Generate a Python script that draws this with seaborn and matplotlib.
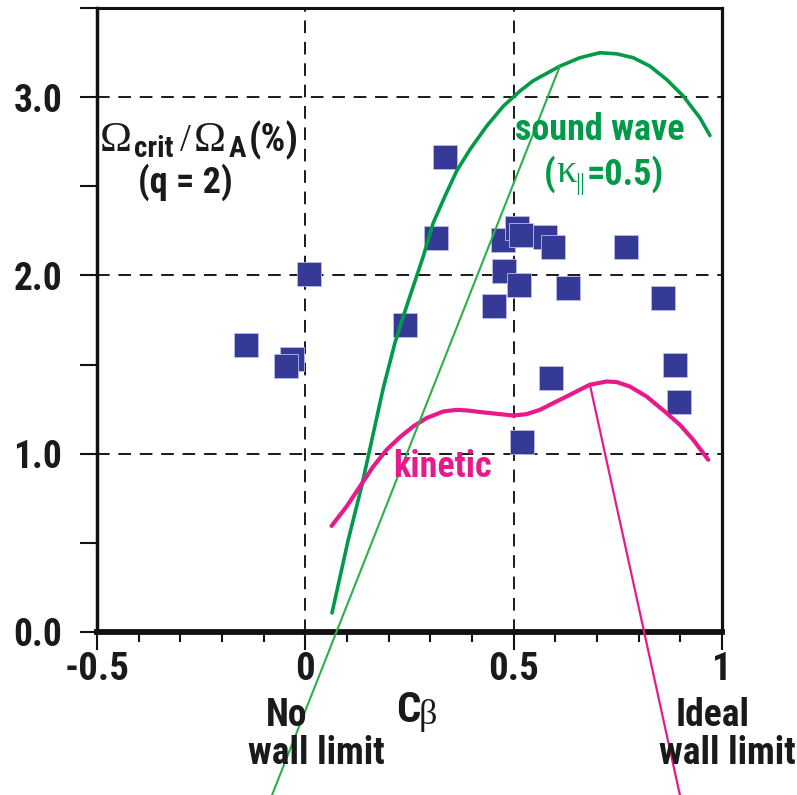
import os
import numpy as np
import pandas as pd
import matplotlib
matplotlib.use("Agg")
import matplotlib.pyplot as plt
import seaborn as sns
from matplotlib import font_manager as fm
from matplotlib.font_manager import FontProperties
from matplotlib.ticker import FixedLocator, FuncFormatter

# ---------------- data ----------------
cbeta_pts = [0.335, 0.313, 0.008, 0.238, -0.142, -0.032, -0.046,
             0.474, 0.508, 0.518, 0.575, 0.594, 0.476, 0.512, 0.452,
             0.630, 0.770, 0.858, 0.590, 0.888, 0.897, 0.521]
omega_pts = [2.663, 2.212, 2.010, 1.722, 1.610, 1.531, 1.490,
             2.199, 2.264, 2.229, 2.214, 2.160, 2.023, 1.948, 1.830,
             1.930, 2.160, 1.874, 1.422, 1.499, 1.288, 1.063]

sound_x = [0.064, 0.103, 0.135, 0.187, 0.215, 0.235, 0.259, 0.283, 0.307,
           0.335, 0.363, 0.395, 0.435, 0.475, 0.515, 0.547, 0.611, 0.659,
           0.707, 0.747, 0.787, 0.827, 0.867, 0.907, 0.947, 0.971]
sound_y = [0.107, 0.517, 0.816, 1.368, 1.621, 1.770, 1.939, 2.107, 2.295,
           2.444, 2.585, 2.706, 2.837, 2.949, 3.034, 3.092, 3.174, 3.221,
           3.249, 3.243, 3.221, 3.174, 3.099, 3.006, 2.884, 2.785]

kinetic_x = [0.063, 0.099, 0.131, 0.163, 0.195, 0.227, 0.259, 0.291, 0.331,
             0.363, 0.387, 0.419, 0.467, 0.499, 0.531, 0.563, 0.595, 0.627,
             0.659, 0.683, 0.723, 0.747, 0.779, 0.819, 0.867, 0.899, 0.931,
             0.967]
kinetic_y = [0.595, 0.704, 0.816, 0.928, 1.022, 1.093, 1.153, 1.200, 1.237,
             1.246, 1.243, 1.234, 1.222, 1.214, 1.222, 1.246, 1.284, 1.321,
             1.359, 1.387, 1.405, 1.402, 1.377, 1.321, 1.228, 1.162, 1.078,
             0.966]

no_wall_x = [0.611, -0.080]
no_wall_y = [3.174, -0.915]
ideal_wall_x = [0.683, 0.899]
ideal_wall_y = [1.387, -0.915]

x_major = [-0.5, 0, 0.5, 1]
x_labels = ["-0.5", "0", "0.5", "1"]
x_minor = [-0.4, -0.3, -0.2, -0.1, 0.1, 0.2, 0.3, 0.4, 0.6, 0.7, 0.8, 0.9]
y_ticks = [0, 0.5, 1.0, 1.5, 2.0, 2.5, 3.0, 3.5]
y_labeled = [0.0, 1.0, 2.0, 3.0]
grid_x = [0, 0.5]
grid_y = [1.0, 2.0, 3.0]

# ---------------- fonts ----------------
sns.set_theme(style="white")
plt.rcParams["font.family"] = ["Liberation Sans", "DejaVu Sans"]


def _w(f):
    w = f.weight
    if isinstance(w, str):
        w = fm.weight_dict.get(w, 400)
    return w


def _is_cond(f):
    b = os.path.basename(f.fname).lower()
    n = f.name.lower()
    return ("condens" in str(f.stretch) or "narrow" in n or "condensed" in n
            or "condensed" in b or "narrow" in b)


prefs = ["liberation sans narrow", "arial narrow", "nimbus sans narrow",
         "roboto condensed", "noto sans", "open sans", "dejavu sans"]
cands = [f for f in fm.fontManager.ttflist
         if _is_cond(f) and 600 <= _w(f) <= 800 and f.style == "normal"]


def _rank(f):
    n = f.name.lower()
    for i, p in enumerate(prefs):
        if n.startswith(p):
            return (i, abs(_w(f) - 700))
    return (len(prefs), abs(_w(f) - 700))


cands.sort(key=_rank)
if cands:
    SANS = FontProperties(fname=cands[0].fname)
    R = 1.0
else:
    SANS = FontProperties(family="Liberation Sans", weight="bold")
    R = 0.86
SERIF = FontProperties(family="Liberation Serif")

W, H = 797, 795
fig = plt.figure(figsize=(W / 100, H / 100), dpi=100)
ax = fig.add_axes([97 / W, 1 - 632 / H, 625 / W, 624 / H])

NAVY = "#353A96"
GREEN = "#009A48"
LGREEN = "#2AB04A"
MAG = "#E8198B"
INK = "#1a1a1a"

dash = (0, (6.5, 4.5))
for gx in grid_x:
    ax.axvline(gx, color=INK, lw=1.4, linestyle=dash, zorder=1)
for gy in grid_y:
    ax.axhline(gy, color=INK, lw=1.4, linestyle=dash, zorder=1)

pts = pd.DataFrame({"cb": cbeta_pts, "om": omega_pts})
sns.scatterplot(data=pts, x="cb", y="om", marker="s", s=320, color=NAVY,
                edgecolor="#b8bce6", linewidth=0.6, ax=ax, zorder=3)

snd = pd.DataFrame({"x": sound_x, "y": sound_y})
kin = pd.DataFrame({"x": kinetic_x, "y": kinetic_y})
sns.lineplot(data=snd, x="x", y="y", sort=False, estimator=None, color=GREEN,
             lw=2.6, ax=ax, zorder=4)
sns.lineplot(data=kin, x="x", y="y", sort=False, estimator=None, color=MAG,
             lw=3.0, ax=ax, zorder=4)
for ln in ax.lines[-2:]:
    ln.set_solid_joinstyle("round")
    ln.set_solid_capstyle("round")

ax.plot(no_wall_x, no_wall_y, color=LGREEN, lw=1.5, zorder=4, clip_on=False)
ax.plot(ideal_wall_x, ideal_wall_y, color=MAG, lw=1.6, zorder=4, clip_on=False)

ax.set_xlim(-0.5, 1.0)
ax.set_ylim(0, 3.5)
ax.set_xlabel("")
ax.set_ylabel("")

for side, w in [("left", 2.5), ("right", 2.3), ("top", 2.2), ("bottom", 4.2)]:
    ax.spines[side].set_visible(True)
    ax.spines[side].set_color("#111111")
    ax.spines[side].set_linewidth(w)

ax.xaxis.set_major_locator(FixedLocator(x_major))
ax.xaxis.set_minor_locator(FixedLocator(x_minor))
ax.set_xticklabels(x_labels)
ax.yaxis.set_major_locator(FixedLocator(y_ticks))
ax.yaxis.set_major_formatter(FuncFormatter(
    lambda v, p: f"{v:.1f}" if any(abs(v - t) < 1e-6 for t in y_labeled) else ""))

ax.tick_params(axis="x", which="major", direction="out", length=13, width=1.5,
               color="#111111", pad=1, bottom=True)
ax.tick_params(axis="x", which="minor", direction="out", length=7, width=1.5,
               color="#111111", bottom=True)
ax.tick_params(axis="y", which="major", direction="out", length=12, width=1.5,
               color="#111111", pad=13, left=True)
for lab in ax.get_xticklabels():
    lab.set_fontproperties(SANS)
    lab.set_fontsize(28 * R)
    lab.set_color(INK)
for lab in ax.get_yticklabels():
    lab.set_fontproperties(SANS)
    lab.set_fontsize(27 * R)
    lab.set_color(INK)


# ---------------- annotations ----------------
def T(px, py, s, size, fp, color=INK, ha="left", va="baseline"):
    t = fig.text(px / W, 1 - py / H, s, ha=ha, va=va, color=color)
    t.set_fontproperties(fp)
    t.set_fontsize(size)
    return t


# Omega_crit / Omega_A (%)
T(100, 151, "\u03A9", 31, SERIF)
T(134, 157, "crit", 21 * R, SANS)
T(180, 151, "/", 28, SERIF)
T(194, 151, "\u03A9", 31, SERIF)
T(229, 157, "A", 21 * R, SANS)
T(249, 151, "(%)", 28 * R, SANS)
T(185, 193, "(q = 2)", 26 * R, SANS, ha="center")

# sound wave label
T(600, 140, "sound wave", 26 * R, SANS, color=GREEN, ha="center")
T(544, 185, "(", 26 * R, SANS, color=GREEN)
T(556, 182, "\u03BA", 29, SERIF, color=GREEN)
T(575, 190, "||", 18, SERIF, color=GREEN)
T(587, 185, "=0.5)", 26 * R, SANS, color=GREEN)

# kinetic
T(442, 477, "kinetic", 26 * R, SANS, color=MAG, ha="center")

# C_beta
T(396, 722, "C", 31 * R, SANS)
T(419, 724, "\u03B2", 26, SERIF)

# wall limits
T(287, 726, "No", 27 * R, SANS, ha="center")
T(316, 764, "wall limit", 27 * R, SANS, ha="center")
T(713, 726, "Ideal", 27 * R, SANS, ha="center")
T(727, 764, "wall limit", 27 * R, SANS, ha="center")

fig.savefig("out.png", dpi=100, facecolor="white")
